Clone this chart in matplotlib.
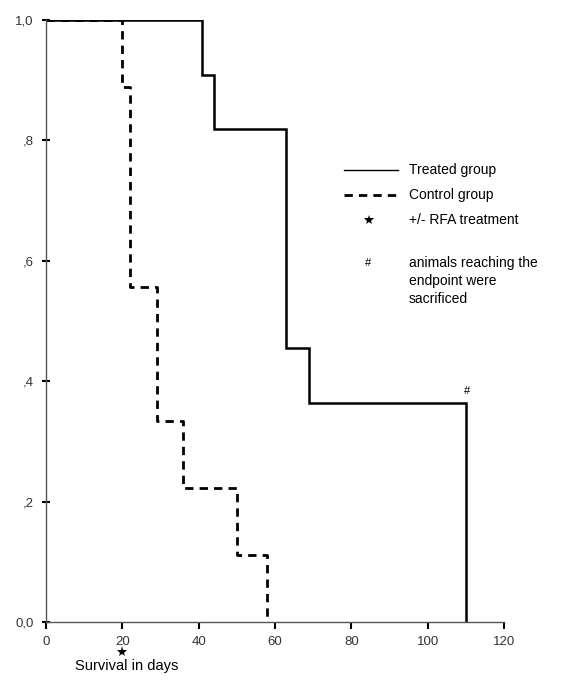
import numpy as np
import matplotlib
matplotlib.use('Agg')
import matplotlib.pyplot as plt

plt.rcParams['font.family'] = 'Liberation Sans'

# Kaplan-Meier steps
treated_days = [0, 41, 44, 63, 69, 110]
treated_surv = [1.0, 0.909, 0.818, 0.455, 0.364, 0.0]
control_days = [0, 20, 22, 29, 36, 50, 58]
control_surv = [1.0, 0.889, 0.556, 0.333, 0.222, 0.111, 0.0]

xticks = [0, 20, 40, 60, 80, 100, 120]
yticks = [0.0, 0.2, 0.4, 0.6, 0.8, 1.0]
ytick_labels = ['0,0', ',2', ',4', ',6', ',8', '1,0']

fig = plt.figure(figsize=(5.64, 6.85), dpi=100)
ax = fig.add_axes([0.0816, 0.092, 0.812, 0.879])

ax.step(treated_days, treated_surv, where='post', color='black', lw=1.8, solid_joinstyle='miter')
ax.step(control_days, control_surv, where='post', color='black', lw=2.0,
        dashes=(3, 2.2), dash_capstyle='butt')

# "#" above the end of the treated curve
ax.text(110.3, 0.375, '#', fontsize=8, ha='center', va='bottom')

ax.set_xlim(0, 120)
ax.set_ylim(0, 1.0)
ax.set_xticks(xticks)
ax.set_xticklabels([str(x) for x in xticks])
ax.set_yticks(yticks)
ax.set_yticklabels(ytick_labels)
for s in ['top', 'right']:
    ax.spines[s].set_visible(False)
for s in ['left', 'bottom']:
    ax.spines[s].set_color('#555555')
    ax.spines[s].set_linewidth(1.0)
ax.tick_params(axis='x', direction='out', length=5, width=1.5, pad=5, labelsize=9.5,
               colors='black', labelcolor='#333333')
ax.tick_params(axis='y', direction='inout', length=6, width=1.5, pad=6, labelsize=9.5,
               colors='black', labelcolor='#333333')

# star under day 20 and axis caption
ax.plot(20, -0.05, marker='*', color='black', markersize=8, markeredgewidth=0, clip_on=False)
fig.text(0.133, 0.018, 'Survival in days', fontsize=10.5, ha='left', va='bottom')

# hand-made legend
ax.plot([78, 92.2], [0.75, 0.75], color='black', lw=1.0, clip_on=False)
ax.plot([78, 92.2], [0.709, 0.709], color='black', lw=2.0, dashes=(3, 2.2), clip_on=False)
ax.plot(84.5, 0.667, marker='*', color='black', markersize=7, markeredgewidth=0)
ax.text(84.5, 0.597, '#', fontsize=8, ha='center', va='center')
ax.text(95, 0.75, 'Treated group', fontsize=10, va='center')
ax.text(95, 0.709, 'Control group', fontsize=10, va='center')
ax.text(95, 0.667, '+/- RFA treatment', fontsize=10, va='center')
ax.text(95, 0.608, 'animals reaching the\nendpoint were\nsacrificed', fontsize=10, va='top',
        linespacing=1.35)

fig.savefig('out.png', dpi=100)
